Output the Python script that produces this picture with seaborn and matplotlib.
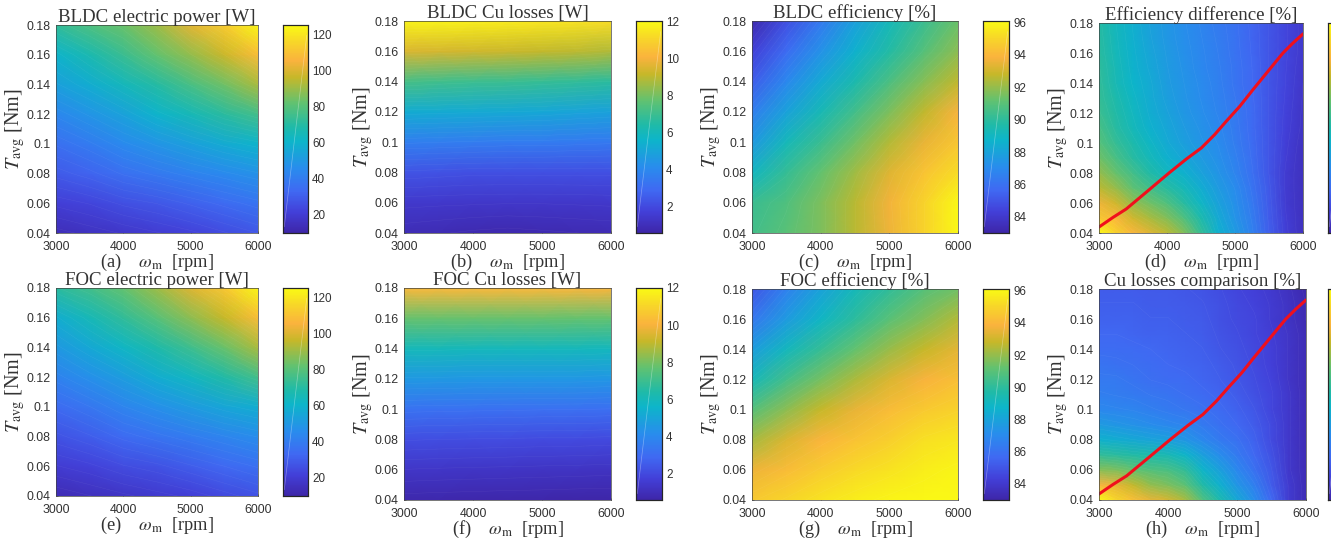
"""
plot.py
-------
BLDC vs FOC motor maps: 2 rows x 4 panels of smooth heatmaps with colorbars.
"""

import matplotlib
matplotlib.use("Agg")
import matplotlib.pyplot as plt
from matplotlib.colors import LinearSegmentedColormap
import numpy as np
import seaborn as sns

W, H = 1331, 541

# coarse grid used by the power, Cu losses and efficiency maps
speed = [3000, 3500, 4000, 4500, 5000, 5500, 6000]
torque = [0.04, 0.06, 0.08, 0.10, 0.12, 0.14, 0.16, 0.18]
# finer grid for the two comparison maps
speed_fine = [3000, 3250, 3500, 3750, 4000, 4250, 4500, 4750, 5000, 5250, 5500, 5750, 6000]
torque_fine = [0.04, 0.05, 0.06, 0.07, 0.08, 0.09, 0.10, 0.11, 0.12, 0.13, 0.14, 0.15, 0.16, 0.17, 0.18]

bldc_power = [
    [14, 16, 18, 20, 22, 25, 28],
    [21, 23, 26, 28, 31, 34, 37],
    [29, 32, 36, 39, 42, 45, 48],
    [36, 40, 45, 49, 53, 57, 60],
    [44, 49, 54, 60, 65, 71, 76],
    [53, 58, 64, 70, 77, 84, 92],
    [60, 67, 74, 82, 89, 97, 108],
    [72, 78, 83, 90, 101, 112, 124],
]
foc_power = [
    [13, 15, 17, 19, 21, 24, 27],
    [20, 22, 25, 27, 30, 33, 36],
    [27, 30, 34, 37, 40, 43, 46],
    [34, 38, 43, 47, 51, 55, 58],
    [42, 47, 52, 58, 63, 69, 76],
    [50, 56, 62, 68, 75, 83, 92],
    [58, 65, 72, 80, 88, 96, 108],
    [71, 76, 82, 90, 100, 111, 124],
]
bldc_cu = [
    [0.95, 0.88, 0.8, 0.75, 0.8, 0.85, 0.9],
    [1.45, 1.42, 1.4, 1.38, 1.38, 1.4, 1.42],
    [2.3, 2.25, 2.2, 2.2, 2.2, 2.2, 2.2],
    [3.7, 3.65, 3.6, 3.55, 3.55, 3.5, 3.45],
    [5.3, 5.25, 5.2, 5.15, 5.1, 5.0, 4.9],
    [7.2, 7.1, 7.0, 6.95, 6.85, 6.75, 6.65],
    [9.5, 9.4, 9.3, 9.2, 9.1, 9.0, 8.8],
    [11.8, 11.8, 11.7, 11.6, 11.5, 11.4, 11.2],
]
foc_cu = [
    [0.72, 0.7, 0.68, 0.66, 0.65, 0.63, 0.62],
    [1.35, 1.32, 1.3, 1.28, 1.26, 1.24, 1.22],
    [2.15, 2.12, 2.1, 2.08, 2.06, 2.05, 2.02],
    [3.25, 3.22, 3.2, 3.18, 3.16, 3.15, 3.12],
    [4.6, 4.58, 4.55, 4.55, 4.55, 4.55, 4.5],
    [6.0, 6.0, 5.95, 5.95, 5.95, 5.95, 5.9],
    [7.8, 7.8, 7.8, 7.8, 7.8, 7.75, 7.75],
    [10.2, 10.2, 10.2, 10.2, 10.2, 10.15, 10.1],
]
bldc_eff = [
    [90.5, 91.0, 91.6, 92.6, 93.6, 94.9, 96.0],
    [90.3, 90.8, 91.6, 92.6, 93.7, 94.9, 96.0],
    [89.0, 90.2, 91.2, 92.2, 93.3, 94.4, 95.2],
    [87.6, 89.2, 90.3, 91.4, 92.5, 93.5, 94.5],
    [86.5, 88.0, 89.3, 90.5, 91.6, 92.7, 93.8],
    [85.3, 86.9, 88.3, 89.5, 90.7, 91.8, 92.7],
    [84.3, 85.8, 87.3, 88.6, 89.8, 90.9, 91.9],
    [83.2, 84.8, 86.3, 87.9, 89.2, 90.3, 91.3],
]
foc_eff = [
    [94.6, 95.0, 95.4, 95.7, 95.9, 96.0, 96.0],
    [93.6, 94.2, 94.7, 95.1, 95.4, 95.7, 95.9],
    [92.3, 93.2, 93.9, 94.4, 94.8, 95.3, 95.5],
    [90.9, 91.9, 92.8, 93.5, 94.2, 94.6, 94.9],
    [89.2, 90.5, 91.5, 92.4, 93.2, 93.8, 94.3],
    [87.8, 89.1, 90.2, 91.2, 92.1, 92.8, 93.4],
    [86.2, 87.7, 88.9, 90.0, 91.0, 91.7, 92.5],
    [85.0, 86.6, 88.0, 89.2, 90.1, 90.9, 91.4],
]
eff_diff = [
    [4.2, 3.8, 3.5, 3.3, 3.1, 2.8, 2.3, 1.8, 1.5, 1.15, 0.75, 0.4, 0.2],
    [3.7, 3.5, 3.2, 3.0, 2.8, 2.5, 2.1, 1.7, 1.4, 1.1, 0.72, 0.38, 0.2],
    [3.4, 3.2, 2.9, 2.7, 2.5, 2.2, 1.9, 1.6, 1.35, 1.05, 0.7, 0.36, 0.2],
    [3.1, 2.9, 2.6, 2.4, 2.2, 2.0, 1.75, 1.5, 1.3, 1.0, 0.68, 0.35, 0.2],
    [2.9, 2.65, 2.4, 2.15, 1.95, 1.8, 1.6, 1.42, 1.2, 0.95, 0.65, 0.35, 0.2],
    [2.7, 2.45, 2.2, 2.0, 1.8, 1.65, 1.5, 1.35, 1.15, 0.92, 0.65, 0.38, 0.2],
    [2.55, 2.3, 2.1, 1.9, 1.7, 1.55, 1.42, 1.3, 1.1, 0.9, 0.65, 0.4, 0.22],
    [2.45, 2.2, 2.0, 1.8, 1.65, 1.5, 1.38, 1.25, 1.08, 0.88, 0.65, 0.42, 0.25],
    [2.35, 2.15, 1.95, 1.75, 1.6, 1.45, 1.33, 1.2, 1.05, 0.88, 0.65, 0.43, 0.26],
    [2.3, 2.1, 1.9, 1.72, 1.55, 1.42, 1.3, 1.18, 1.03, 0.86, 0.65, 0.45, 0.27],
    [2.28, 2.05, 1.85, 1.7, 1.52, 1.4, 1.28, 1.16, 1.0, 0.85, 0.65, 0.46, 0.28],
    [2.25, 2.03, 1.82, 1.66, 1.5, 1.38, 1.25, 1.14, 1.0, 0.84, 0.65, 0.47, 0.3],
    [2.22, 2.0, 1.8, 1.63, 1.48, 1.36, 1.24, 1.12, 0.98, 0.83, 0.65, 0.48, 0.32],
    [2.2, 1.98, 1.78, 1.6, 1.46, 1.34, 1.22, 1.1, 0.97, 0.82, 0.65, 0.48, 0.33],
    [2.18, 1.96, 1.76, 1.58, 1.45, 1.32, 1.2, 1.08, 0.96, 0.81, 0.65, 0.48, 0.33],
]
cu_compare = [
    [70, 64, 60, 56, 54, 50, 42, 35, 28, 22, 14, 6, 2],
    [58, 56, 52, 48, 46, 43, 36, 30, 24, 19, 12, 6, 2],
    [47, 46, 44, 42, 41, 38, 31, 26, 21, 16, 11, 5, 2],
    [38, 37, 36, 35, 34, 31, 26, 22, 18, 14, 10, 5, 2],
    [30, 29, 28, 27, 26, 24, 21, 18, 16, 13, 9, 5, 2],
    [25, 24, 23, 22, 21, 20, 18, 16, 14, 12, 9, 5, 2],
    [21, 20.5, 20, 19, 18, 17, 16, 14.5, 13, 11, 8, 5, 2],
    [19, 18.5, 18, 17, 16.5, 15.5, 14.5, 13.5, 12, 10, 8, 5, 2],
    [17.5, 17.5, 16.5, 15.5, 15, 14.5, 13.5, 12.5, 11, 9.5, 7.5, 4.5, 2],
    [16.5, 16, 15.5, 15, 14, 13.5, 13, 12, 10.5, 9, 7, 4.5, 2],
    [15, 15, 14.5, 14, 13.5, 13, 12.5, 11, 10, 8.5, 7, 4.5, 2],
    [14, 14, 13.5, 13, 13, 12.5, 12, 10.5, 9.5, 8, 6.5, 4.5, 2],
    [13, 13, 13, 12.5, 12.5, 12, 11.5, 10, 9, 8, 6, 4, 1.5],
    [12.5, 12.5, 12.5, 12, 12, 11.5, 11, 10, 8.5, 7.5, 6, 4, 1.5],
    [12, 12, 12, 11.5, 11.5, 11, 10.5, 9.5, 8, 7, 5.5, 3.5, 1],
]

# red operating curve on the comparison maps
curve_speed = [3000, 3206, 3400, 3721, 4040, 4284, 4505, 4701, 4870, 5069, 5265, 5485, 5705, 5853, 6000]
curve_torque = [0.044, 0.0504, 0.056, 0.0682, 0.0804, 0.0893, 0.0967, 0.1056, 0.1144,
                0.1244, 0.1356, 0.1478, 0.16, 0.1667, 0.1727]

x_ticks = [3000, 4000, 5000, 6000]
y_ticks = [0.04, 0.06, 0.08, 0.10, 0.12, 0.14, 0.16, 0.18]
y_tick_labels = ["0.04", "0.06", "0.08", "0.1", "0.12", "0.14", "0.16", "0.18"]

power_ticks = [20, 40, 60, 80, 100, 120]
cu_ticks = [2, 4, 6, 8, 10, 12]
eff_ticks = [84, 86, 88, 90, 92, 94, 96]

# colormap stops
parula = LinearSegmentedColormap.from_list("parula", [
    (0.00, (0.2422, 0.1504, 0.6603)), (0.10, (0.26, 0.25, 0.85)), (0.20, (0.25, 0.41, 0.95)),
    (0.31, (0.16, 0.55, 0.93)), (0.44, (0.05, 0.71, 0.79)), (0.51, (0.12, 0.73, 0.66)),
    (0.625, (0.38, 0.76, 0.44)), (0.75, (0.78, 0.72, 0.16)), (0.83, (0.98, 0.70, 0.24)),
    (0.92, (0.97, 0.84, 0.16)), (1.00, (0.98, 0.98, 0.08)),
])

sns.set_theme(style="white")
plt.rcParams["font.family"] = ["Liberation Sans", "DejaVu Sans"]
plt.rcParams["mathtext.fontset"] = "stix"

SERIF = "Liberation Serif"
INK = "#333333"


def px_rect(left, right, top, bottom):
    return [left / W, 1 - bottom / H, (right - left) / W, (bottom - top) / H]


def draw_panel(fig, box, cbox, data, xs, ys, title, tag, vmin, vmax, cticks, curve=False):
    ax = fig.add_axes(px_rect(*box))
    cax = fig.add_axes(px_rect(*cbox))
    sns.heatmap(np.array(data), ax=ax, cbar_ax=cax, cmap=parula, vmin=vmin, vmax=vmax,
                shading="gouraud", xticklabels=False, yticklabels=False)

    # faint seams between the filled levels
    ax.contour(np.array(data), levels=np.linspace(vmin, vmax, 46), colors="white",
               linewidths=0.3, alpha=0.08)

    # heatmap works in cell indices, so map real units onto them
    to_x = lambda v: (np.asarray(v) - xs[0]) / (xs[1] - xs[0])
    to_y = lambda v: (np.asarray(v) - ys[0]) / (ys[1] - ys[0])
    ax.set_xlim(0, len(xs) - 1)
    ax.set_ylim(0, len(ys) - 1)
    ax.set_xticks(to_x(x_ticks), [str(t) for t in x_ticks])
    ax.set_yticks(to_y(y_ticks), y_tick_labels)
    ax.tick_params(direction="in", length=1.5, width=0.4, labelsize=8.9, colors=INK, pad=6,
                   bottom=True, left=True)
    ax.tick_params(axis="y", pad=4)

    if curve:
        sns.lineplot(x=to_x(curve_speed), y=to_y(curve_torque), ax=ax, color="#f0101c",
                     linewidth=2.2, estimator=None, sort=False, solid_joinstyle="round")

    ax.set_title(title, family=SERIF, fontsize=13.6, color=INK, pad=2.5)
    ax.set_xlabel(tag + r"    $\omega_{\mathrm{m}}$  [rpm]", family=SERIF, fontsize=13.2,
                  color=INK, labelpad=-1)
    ax.set_ylabel(r"$T_{\mathrm{avg}}$ [Nm]", family=SERIF, fontsize=14.5, color=INK, labelpad=-0.5)
    for spine in ax.spines.values():
        spine.set_visible(True)
        spine.set_color("#404040")
        spine.set_linewidth(0.5)

    cax.set_yticks(cticks)
    cax.tick_params(direction="in", length=2, width=0.5, labelsize=8.4, colors=INK, pad=3, right=True)
    for spine in cax.spines.values():
        spine.set_visible(True)
        spine.set_color("#262626")
        spine.set_linewidth(0.8)
    # seam left along the colorbar diagonal
    cax.plot([0.05, 0.95], [0.03, 0.95], transform=cax.transAxes, color="white",
             linewidth=0.5, alpha=0.35)


def main():
    fig = plt.figure(figsize=(W / 100, H / 100), dpi=100, facecolor="white")

    draw_panel(fig, (56, 258, 25, 233), (283, 308, 25, 233), bldc_power, speed, torque,
               "BLDC electric power [W]", "(a)", 10, 125, power_ticks)
    draw_panel(fig, (404, 611, 21, 233), (636, 662, 21, 233), bldc_cu, speed, torque,
               "BLDC Cu losses [W]", "(b)", 0.6, 12, cu_ticks)
    draw_panel(fig, (752, 958, 21, 233), (983, 1009, 21, 233), bldc_eff, speed, torque,
               "BLDC efficiency [%]", "(c)", 83, 96.1, eff_ticks)
    draw_panel(fig, (1099, 1303, 23, 233), (1328, 1354, 23, 233), eff_diff, speed_fine, torque_fine,
               "Efficiency difference [%]", "(d)", 0, 4.2, [], curve=True)

    draw_panel(fig, (56, 258, 288, 496), (283, 308, 288, 496), foc_power, speed, torque,
               "FOC electric power [W]", "(e)", 10, 125, power_ticks)
    draw_panel(fig, (404, 611, 288, 500), (636, 662, 288, 500), foc_cu, speed, torque,
               "FOC Cu losses [W]", "(f)", 0.6, 12, cu_ticks)
    draw_panel(fig, (752, 958, 289, 500), (983, 1009, 289, 500), foc_eff, speed, torque,
               "FOC efficiency [%]", "(g)", 83, 96.1, eff_ticks)
    draw_panel(fig, (1099, 1306, 289, 500), (1328, 1354, 289, 500), cu_compare, speed_fine, torque_fine,
               "Cu losses comparison [%]", "(h)", 0, 70, [], curve=True)

    fig.savefig("out.png", dpi=100)
    plt.close(fig)


if __name__ == "__main__":
    main()
